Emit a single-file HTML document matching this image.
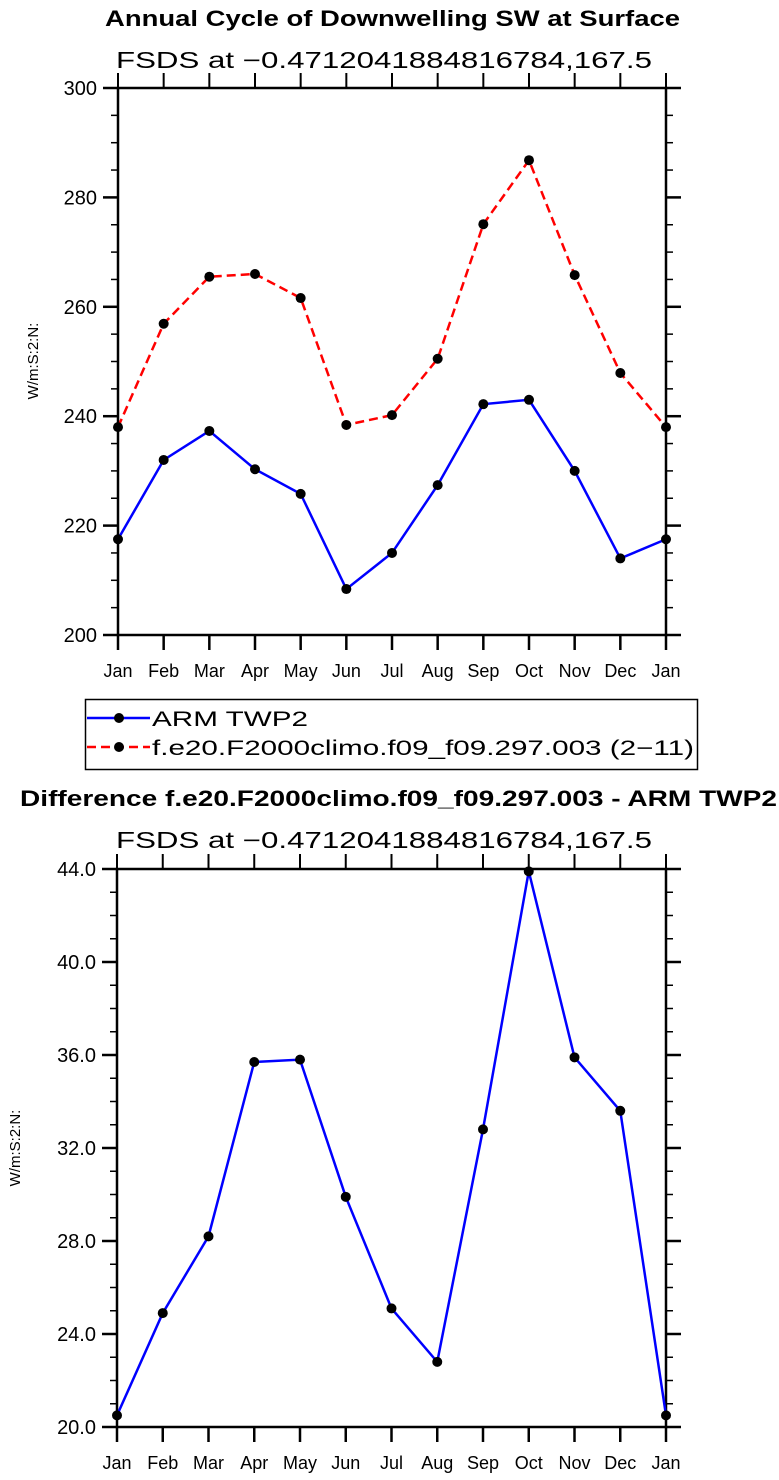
<!DOCTYPE html>
<html><head><meta charset="utf-8"><style>
body{margin:0;background:#fff;}
svg{display:block;font-family:"Liberation Sans",sans-serif;}
</style></head><body>
<svg id="c" width="779" height="1480" viewBox="0 0 779 1480" xmlns="http://www.w3.org/2000/svg">
<text x="105" y="26" textLength="575" lengthAdjust="spacingAndGlyphs" font-size="22" font-weight="bold">Annual Cycle of Downwelling SW at Surface</text>
<text x="116" y="68" textLength="536" lengthAdjust="spacingAndGlyphs" font-size="23">FSDS at −0.4712041884816784,167.5</text>
<text transform="translate(38,361) rotate(-90)" text-anchor="middle" font-size="15">W/m:S:2:N:</text>
<g id="top"></g>
<g>
<rect x="85.5" y="699.5" width="612" height="70" fill="none" stroke="#000" stroke-width="1.5"/>
<g>
<line x1="87" y1="718" x2="150" y2="718" stroke="#0000ff" stroke-width="2.5"/><circle cx="119" cy="718" r="5"/>
<text x="152" y="726" font-size="21" textLength="156" lengthAdjust="spacingAndGlyphs">ARM TWP2</text></g>
<g>
<line x1="87" y1="747" x2="150" y2="747" stroke="#ff0000" stroke-width="2.5" stroke-dasharray="9,5"/><circle cx="119" cy="747" r="5"/>
<text x="152" y="755" font-size="21" textLength="542" lengthAdjust="spacingAndGlyphs">f.e20.F2000climo.f09_f09.297.003 (2−11)</text></g>
</g>
<text x="20" y="806" textLength="757" lengthAdjust="spacingAndGlyphs" font-size="22" font-weight="bold">Difference f.e20.F2000climo.f09_f09.297.003 - ARM TWP2</text>
<text x="116" y="848" textLength="536" lengthAdjust="spacingAndGlyphs" font-size="23">FSDS at −0.4712041884816784,167.5</text>
<text transform="translate(20,1148) rotate(-90)" text-anchor="middle" font-size="15">W/m:S:2:N:</text>
<g id="bot"></g>
</svg>
<script>
const months = ["Jan","Feb","Mar","Apr","May","Jun","Jul","Aug","Sep","Oct","Nov","Dec","Jan"];
const armValues = [217.5,232,237.3,230.3,225.8,208.4,215,227.4,242.2,243,230,214,217.5];
const modelValues = [238,256.9,265.5,266,261.6,238.4,240.2,250.5,275.1,286.8,265.8,247.9,238];
const diffValues = [20.5,24.9,28.2,35.7,35.8,29.9,25.1,22.8,32.8,43.9,35.9,33.6,20.5];
const topTicks = ["200","220","240","260","280","300"];
const botTicks = ["20.0","24.0","28.0","32.0","36.0","40.0","44.0"];
const NS="http://www.w3.org/2000/svg";
function mk(p,t,a){const e=document.createElementNS(NS,t);for(const k in a)e.setAttribute(k,a[k]);p.appendChild(e);return e;}
function plot(g,L,R,T,B,ymin,ymax,ticks,minorStep,series){
  const x=i=>L+(R-L)*i/(months.length-1);
  const y=v=>B-(B-T)*(v-ymin)/(ymax-ymin);
  for(let v=ymin;v<=ymax+1e-9;v+=minorStep){
    const l1=mk(g,'line',{x1:L-7,x2:L,y1:y(v),y2:y(v),stroke:'#000','stroke-width':1.5});
    
    
    mk(g,'line',{x1:R,x2:R+7,y1:y(v),y2:y(v),stroke:'#000','stroke-width':1.5});
  }
  ticks.forEach(t=>{const v=parseFloat(t);
    mk(g,'line',{x1:L-15,x2:L,y1:y(v),y2:y(v),stroke:'#000','stroke-width':2.5});
    mk(g,'line',{x1:R,x2:R+15,y1:y(v),y2:y(v),stroke:'#000','stroke-width':2.5});
    const tx=mk(g,'text',{x:L-21,y:y(v)+7,'text-anchor':'end','font-size':20});
    tx.textContent=t;
    
    
  });
  months.forEach((m,i)=>{
    mk(g,'line',{x1:x(i),x2:x(i),y1:B,y2:B+15,stroke:'#000','stroke-width':2.5});
    mk(g,'line',{x1:x(i),x2:x(i),y1:T-15,y2:T,stroke:'#000','stroke-width':2});
    const tx=mk(g,'text',{x:x(i),y:B+42,'text-anchor':'middle','font-size':18});
    tx.textContent=m;
    
    
  });
  const fr=mk(g,'rect',{x:L,y:T,width:R-L,height:B-T,fill:'none',stroke:'#000','stroke-width':2.5});
  
  
  series.forEach(s=>{
    const pl=mk(g,'polyline',{points:s.v.map((v,i)=>x(i)+','+y(v)).join(' '),fill:'none',stroke:s.c,'stroke-width':2.5,'stroke-dasharray':s.d||'none'});
    
    
    s.v.forEach((v,i)=>{const c=mk(g,'circle',{cx:x(i),cy:y(v),r:5,fill:'#000'});
      
      });
  });
}
plot(document.getElementById('top'),118,666,88,635,200,300,topTicks,5,
 [{v:armValues,c:'#0000ff',n:'arm'},{v:modelValues,c:'#ff0000',d:'9,5',n:'model'}]);
plot(document.getElementById('bot'),117,666,869,1427,20,44,botTicks,1,
 [{v:diffValues,c:'#0000ff',n:'difference'}]);
</script>
</body></html>
